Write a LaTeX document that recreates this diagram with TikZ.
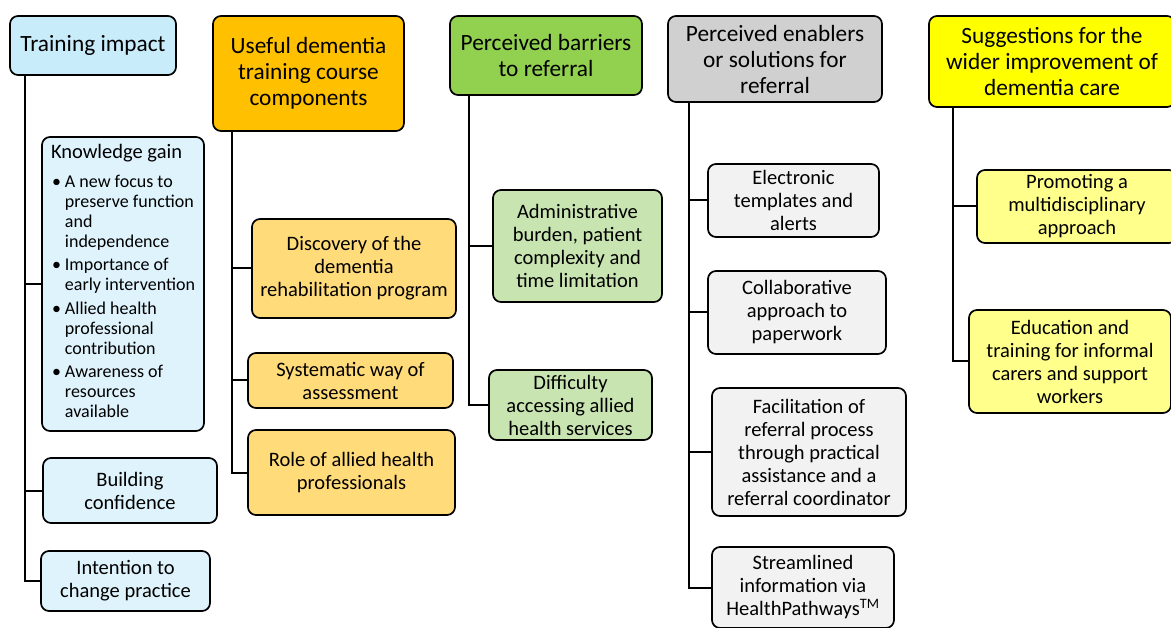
\documentclass[tikz,border=0pt]{standalone}
\usepackage{fontspec}
\setmainfont{Carlito}
\usepackage{tikz}
\usetikzlibrary{shapes,arrows}
\usetikzlibrary{calc}
\definecolor{impactblue}{HTML}{C8ECFA}
\definecolor{impactpale}{HTML}{DFF3FC}
\definecolor{courseorange}{HTML}{FFC000}
\definecolor{coursepale}{HTML}{FFDB7A}
\definecolor{barriergreen}{HTML}{92D050}
\definecolor{barrierpale}{HTML}{C8E4B0}
\definecolor{enablergrey}{HTML}{D0D0D0}
\definecolor{enablerpale}{HTML}{F2F2F2}
\definecolor{suggestyellow}{HTML}{FFFF00}
\definecolor{suggestpale}{HTML}{FFFF8C}
\tikzstyle{headblock} = [rectangle, draw, line width=1.7pt, rounded corners=8pt,
    align=center, font=\fontsize{23.3}{26}\selectfont, inner sep=3pt]
\tikzstyle{subblock} = [rectangle, draw, line width=1.7pt, rounded corners=8pt,
    align=center, font=\fontsize{20.5}{23}\selectfont, inner sep=3pt]
\tikzstyle{line} = [draw, line width=2pt]

\begin{document}
\begin{tikzpicture}[x=1pt, y=-1pt]
    \useasboundingbox (0,0) rectangle (1171,628);
    % Column headings
    \node [headblock, fill=impactblue, minimum width=166pt, minimum height=59pt] (impact) at (93,45.5) {Training impact};
    \node [headblock, fill=courseorange, minimum width=191pt, minimum height=115pt] (course) at (308.5,73.5) {Useful dementia\\ training course\\ components};
    \node [headblock, fill=barriergreen, minimum width=192pt, minimum height=79pt] (barriers) at (546,55.5) {Perceived barriers\\ to referral};
    \node [headblock, fill=enablergrey, minimum width=214pt, minimum height=86pt] (enablers) at (775,59) {Perceived enablers\\ or solutions for\\ referral};
    \node [headblock, fill=suggestyellow, minimum width=246pt, minimum height=91pt] (suggest) at (1052,61.5) {Suggestions for the\\ wider improvement of\\ dementia care};

    % Training impact
    \node [subblock, fill=impactpale, minimum width=162pt, minimum height=294pt, align=left] (knowledge) at (123,284) {Knowledge gain\\[10pt]
	{\fontsize{18}{20}\selectfont
	\begin{tabular}{@{\hspace{1pt}}l@{\hspace{4pt}}l@{}}
	\textbullet & A new focus to\\
	 & preserve function\\
	 & and\\
	 & independence\\[3.5pt]
	\textbullet & Importance of\\
	 & early intervention\\[3.5pt]
	\textbullet & Allied health\\
	 & professional\\
	 & contribution\\[3.5pt]
	\textbullet & Awareness of\\
	 & resources\\
	 & available
	\end{tabular}}};
    \node [subblock, fill=impactpale, minimum width=174pt, minimum height=65pt] (confidence) at (130,490.5) {Building\\ confidence};
    \node [subblock, fill=impactpale, minimum width=169pt, minimum height=60pt] (intention) at (125.5,581) {Intention to\\ change practice};

    % Course components
    \node [subblock, fill=coursepale, minimum width=204pt, minimum height=99pt] (discovery) at (354,268.5) {Discovery of the\\ dementia\\ rehabilitation program};
    \node [subblock, fill=coursepale, minimum width=205pt, minimum height=55pt] (systematic) at (350.5,380.5) {Systematic way of\\ assessment};
    \node [subblock, fill=coursepale, minimum width=207pt, minimum height=85pt] (role) at (351.5,472.5) {Role of allied health\\ professionals};

    % Barriers
    \node [subblock, fill=barrierpale, minimum width=169pt, minimum height=112pt] (burden) at (577.5,246) {Administrative\\ burden, patient\\ complexity and\\ time limitation};
    \node [subblock, fill=barrierpale, minimum width=163pt, minimum height=70pt] (access) at (570.5,405) {Difficulty\\ accessing allied\\ health services};

    % Enablers
    \node [subblock, fill=enablerpale, minimum width=171pt, minimum height=73pt] (templates) at (793.5,200.5) {Electronic\\ templates and\\ alerts};
    \node [subblock, fill=enablerpale, minimum width=178pt, minimum height=83pt] (paperwork) at (797,312.5) {Collaborative\\ approach to\\ paperwork};
    \node [subblock, fill=enablerpale, minimum width=194pt, minimum height=128pt] (facilitation) at (809,452) {Facilitation of\\ referral process\\ through practical\\ assistance and a\\ referral coordinator};
    \node [subblock, fill=enablerpale, minimum width=182pt, minimum height=81pt] (pathways) at (803,587.5) {Streamlined\\ information via\\ HealthPathways\textsuperscript{TM}};

    % Suggestions
    \node [subblock, fill=suggestpale, minimum width=200pt, minimum height=73pt] (multidisc) at (1077,206.5) {Promoting a\\ multidisciplinary\\ approach};
    \node [subblock, fill=suggestpale, minimum width=202pt, minimum height=103pt] (carers) at (1070,361.5) {Education and\\ training for informal\\ carers and support\\ workers};

    % Draw edges
    \foreach \child in {knowledge, confidence, intention}
        \path[line] ([xshift=16pt]impact.south west) |- (\child.west);
    \foreach \child in {discovery, systematic, role}
        \path[line] ([xshift=20pt]course.south west) |- (\child.west);
    \foreach \child in {burden, access}
        \path[line] ([xshift=20pt]barriers.south west) |- (\child.west);
    \foreach \child in {templates, paperwork, facilitation, pathways}
        \path[line] ([xshift=22pt]enablers.south west) |- (\child.west);
    \foreach \child in {multidisc, carers}
        \path[line] ([xshift=25pt]suggest.south west) |- (\child.west);
\end{tikzpicture}
\end{document}
